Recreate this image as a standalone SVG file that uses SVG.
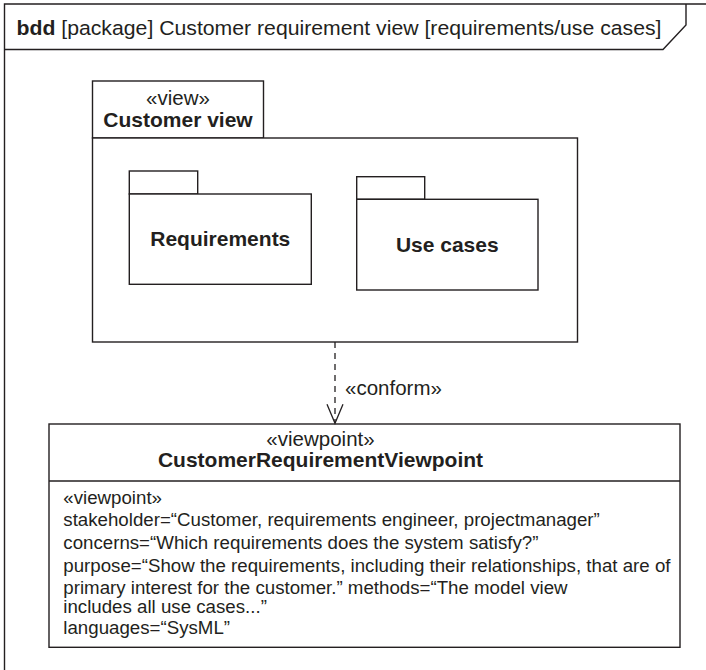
<svg xmlns="http://www.w3.org/2000/svg" width="706" height="670" viewBox="0 0 706 670">
  <style>
    .ln { fill: none; stroke: #231f20; stroke-width: 1.4; }
    .bx { fill: #ffffff; stroke: #231f20; stroke-width: 1.4; }
    .t { font-family: "Liberation Sans", Arial, sans-serif; fill: #231f20; }
    .reg { font-size: 20.5px; }
    .bold { font-size: 21px; font-weight: bold; }
    .cmp { font-size: 18.7px; }
    .mid { text-anchor: middle; }
    .dash { fill: none; stroke: #231f20; stroke-width: 1.3; stroke-dasharray: 6 5; }
  </style>
  <defs>
    <marker id="openArrow" markerWidth="22" markerHeight="18" refX="20" refY="9" orient="auto" markerUnits="userSpaceOnUse" viewBox="0 0 22 18">
      <path d="M1 1 L20 9 L1 17" fill="none" stroke="#231f20" stroke-width="1.3"/>
    </marker>
  </defs>
  <rect x="0" y="0" width="706" height="670" fill="#ffffff"/>

  <g id="frame">
    <path class="ln" d="M4.5 670 V4 H706"/>
    <path class="ln" d="M4.5 49.5 H663 L686 25 V4"/>
    <text class="t reg" x="16.5" y="34.5" textLength="645" lengthAdjust="spacingAndGlyphs"><tspan font-weight="bold">bdd</tspan> [package] Customer requirement view [requirements/use cases]</text>
  </g>

  <g id="customer-view">
    <rect class="bx" x="92.5" y="81" width="171" height="57"/>
    <rect class="bx" x="92.5" y="138" width="485" height="204"/>
    <text class="t reg mid" x="178" y="105">«view»</text>
    <text class="t bold mid" x="178" y="126.7">Customer view</text>
  </g>

  <g id="requirements">
    <rect class="bx" x="129.3" y="171" width="68.4" height="23"/>
    <rect class="bx" x="129.3" y="194" width="182" height="90.3"/>
    <text class="t bold mid" x="220.3" y="245.7">Requirements</text>
  </g>

  <g id="use-cases">
    <rect class="bx" x="356.7" y="176.7" width="68" height="22.6"/>
    <rect class="bx" x="356.7" y="199.3" width="181.3" height="90.7"/>
    <text class="t bold mid" x="447.3" y="251.5">Use cases</text>
  </g>

  <g id="viewpoint">
    <rect class="bx" x="49" y="424" width="631" height="223.3"/>
    <line class="ln" x1="49" y1="481" x2="680" y2="481"/>
    <text class="t reg mid" x="320.5" y="445.5">«viewpoint»</text>
    <text class="t bold mid" x="320.5" y="467.3">CustomerRequirementViewpoint</text>
    <text class="t cmp" x="63.3" y="503.5">«viewpoint»</text>
    <text class="t cmp" x="63.3" y="526.2">stakeholder=“Customer, requirements engineer, projectmanager”</text>
    <text class="t cmp" x="63.3" y="548.9">concerns=“Which requirements does the system satisfy?”</text>
    <text class="t cmp" x="63.3" y="571.6">purpose=“Show the requirements, including their relationships, that are of</text>
    <text class="t cmp" x="63.3" y="594.3">primary interest for the customer.” methods=“The model view</text>
    <text class="t cmp" x="63.3" y="612.5">includes all use cases...”</text>
    <text class="t cmp" x="63.3" y="634.3">languages=“SysML”</text>
  </g>

  <g id="connectors">
    <line class="dash" x1="335" y1="342" x2="335" y2="423.3" marker-end="url(#openArrow)"/>
    <text class="t reg" x="345" y="395">«conform»</text>
  </g>
</svg>
